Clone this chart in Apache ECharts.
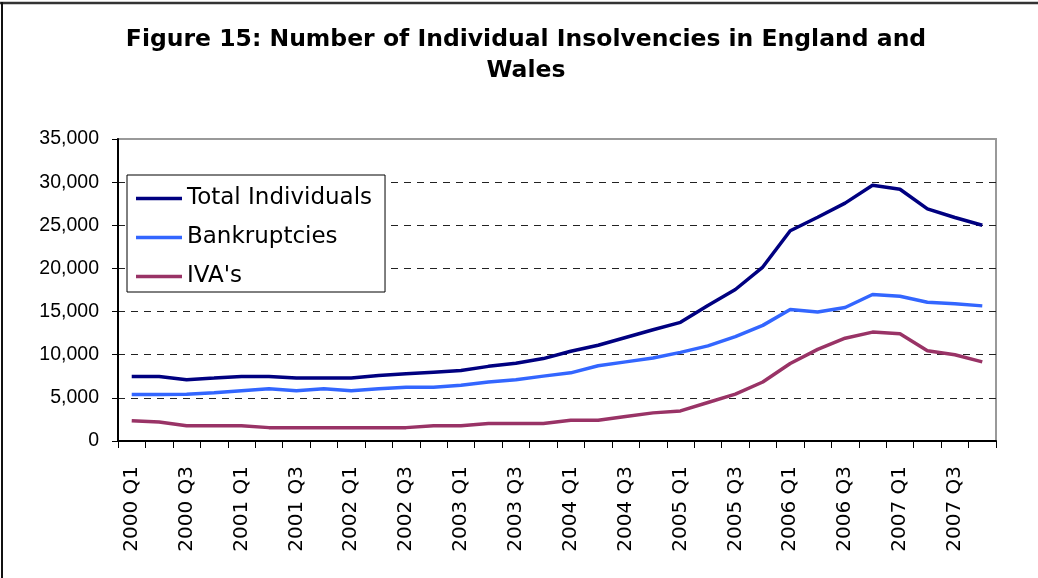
<!DOCTYPE html>
<html>
<head>
<meta charset="utf-8">
<title>Number of Individual Insolvencies in England and Wales</title>
<script src="https://cdn.jsdelivr.net/npm/echarts@6/dist/echarts.min.js"></script>
<style>
  html, body { margin: 0; padding: 0; background: #fff; }
  #chart { width: 1038px; height: 578px; }
</style>
</head>
<body>
<div id="chart"></div>
<script>
// Quarterly insolvency counts, England and Wales
const quarters = [
  '2000 Q1','2000 Q2','2000 Q3','2000 Q4',
  '2001 Q1','2001 Q2','2001 Q3','2001 Q4',
  '2002 Q1','2002 Q2','2002 Q3','2002 Q4',
  '2003 Q1','2003 Q2','2003 Q3','2003 Q4',
  '2004 Q1','2004 Q2','2004 Q3','2004 Q4',
  '2005 Q1','2005 Q2','2005 Q3','2005 Q4',
  '2006 Q1','2006 Q2','2006 Q3','2006 Q4',
  '2007 Q1','2007 Q2','2007 Q3','2007 Q4'
];
const totalIndividuals = [
  7480, 7480, 7110, 7290, 7480, 7480, 7290, 7290,
  7290, 7590, 7780, 7970, 8160, 8650, 9020, 9550,
  10400, 11100, 12000, 12900, 13750, 15700, 17560, 20160,
  24370, 25930, 27570, 29630, 29180, 26900, 25900, 25000
];
const bankruptcies = [
  5390, 5390, 5430, 5600, 5830, 6050, 5830, 6050,
  5830, 6050, 6240, 6240, 6470, 6840, 7100, 7520,
  7900, 8720, 9170, 9620, 10270, 11020, 12100, 13400,
  15230, 14960, 15470, 16980, 16780, 16090, 15900, 15660
];
const ivas = [
  2360, 2210, 1780, 1780, 1780, 1550, 1550, 1550,
  1550, 1550, 1550, 1780, 1780, 2020, 2020, 2020,
  2400, 2400, 2830, 3260, 3490, 4460, 5430, 6840,
  8980, 10620, 11910, 12620, 12420, 10470, 10000, 9170
];
const yTicks = { min: 0, max: 35000, step: 5000 };

const chart = echarts.init(document.getElementById('chart'), null, { renderer: 'canvas' });

function line(name, data, color) {
  return {
    name: name,
    type: 'line',
    data: data,
    symbol: 'none',
    smooth: false,
    lineStyle: { color: color, width: 3.5 },
    itemStyle: { color: color }
  };
}

chart.setOption({
  backgroundColor: '#ffffff',
  animation: false,
  title: {
    text: 'Figure 15: Number of Individual Insolvencies in England and\nWales',
    left: 521,
    top: 19,
    textAlign: 'center',
    textStyle: {
      fontFamily: 'DejaVu Sans',
      fontWeight: 'bold',
      fontSize: 23.5,
      lineHeight: 31,
      color: '#000'
    }
  },
  graphic: [
    { type: 'line', shape: { x1: 0, y1: 3, x2: 1038, y2: 3 }, style: { stroke: '#333', lineWidth: 2.5 } },
    { type: 'line', shape: { x1: 2, y1: 2, x2: 2, y2: 578 }, style: { stroke: '#111', lineWidth: 2 } }
  ],
  legend: {
    orient: 'vertical',
    left: 127,
    top: 175,
    padding: [10, 13, 2, 9],
    itemGap: 12,
    itemWidth: 46,
    itemHeight: 3.5,
    icon: 'rect',
    backgroundColor: '#fff',
    borderColor: '#000',
    borderWidth: 1,
    borderRadius: 0,
    textStyle: {
      fontFamily: 'DejaVu Sans',
      fontSize: 23,
      lineHeight: 27,
      color: '#000',
      padding: [0, 0, 0, 0]
    },
    data: ['Total Individuals', 'Bankruptcies', "IVA's"]
  },
  grid: {
    left: 118,
    right: 42,
    top: 139,
    bottom: 137,
    show: true,
    borderColor: '#999',
    borderWidth: 2,
    backgroundColor: 'transparent'
  },
  xAxis: {
    type: 'category',
    data: quarters,
    boundaryGap: true,
    axisLine: { lineStyle: { color: '#000', width: 2 } },
    axisTick: { show: true, interval: 0, length: 7, inside: false, lineStyle: { color: '#000', width: 1 } },
    axisLabel: {
      interval: 1,
      rotate: 90,
      margin: 25,
      fontFamily: 'DejaVu Sans',
      fontSize: 20,
      color: '#000'
    },
    splitLine: { show: false }
  },
  yAxis: {
    type: 'value',
    min: yTicks.min,
    max: yTicks.max,
    interval: yTicks.step,
    axisLine: { show: true, lineStyle: { color: '#000', width: 2 } },
    axisTick: { show: true, length: 6, lineStyle: { color: '#000', width: 1 } },
    axisLabel: {
      margin: 19,
      fontFamily: 'Liberation Sans',
      fontSize: 19.5,
      color: '#000',
      formatter: function (v) { return v.toLocaleString('en-US'); }
    },
    splitLine: {
      show: true,
      showMinLine: false,
      showMaxLine: false,
      lineStyle: { color: '#222', width: 1, type: [7, 6] }
    }
  },
  series: [
    line('Total Individuals', totalIndividuals, '#000080'),
    line('Bankruptcies', bankruptcies, '#3366ff'),
    line("IVA's", ivas, '#993366')
  ]
});
</script>
</body>
</html>
